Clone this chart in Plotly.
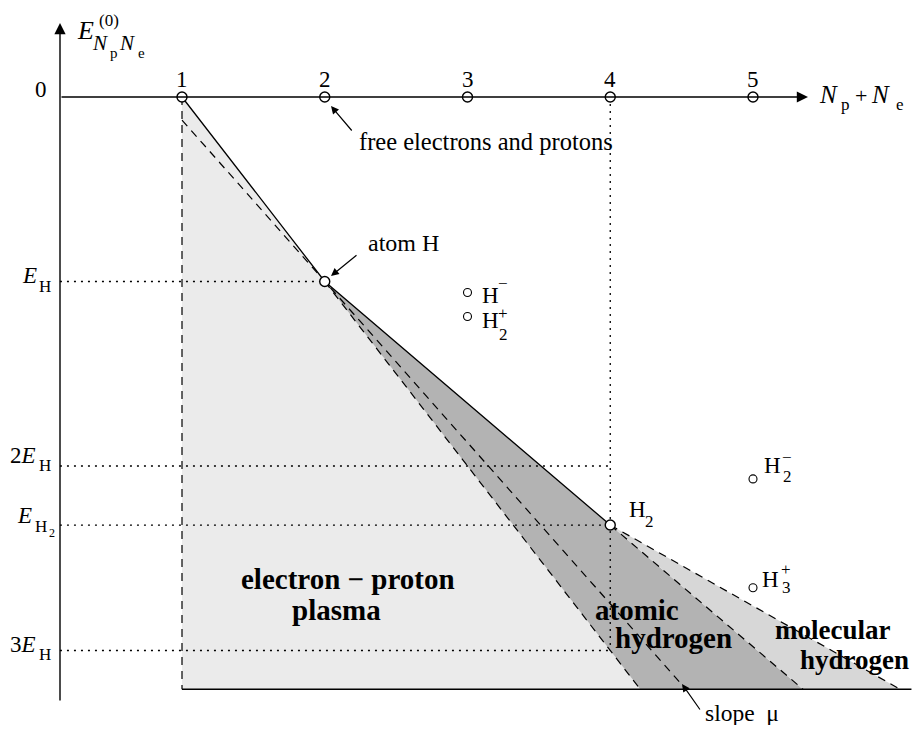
import plotly.graph_objects as go

# ---------------- data ----------------
# horizontal: particle number N = Np + Ne ; vertical: ground-state energy in units of E_H
tick_N = [1, 2, 3, 4, 5]
tick_text = ["1", "2", "3", "4", "5"]

hull_N = [1, 2, 4]              # free particles, atom H, molecule H2
hull_E = [0.0, -1.0, -2.32]

ion_N = [3, 3, 5, 5]            # H-, H2+, H2-, H3+
ion_E = [-1.06, -1.19, -2.07, -2.66]

level_E = [-1.0, -2.0, -2.32, -3.0]     # E_H, 2E_H, E_H2, 3E_H
level_end_N = [2, 4, 4, 4]

floor_E = -3.21
boundary_floor_N = [4.21, 5.35, 6.03]   # plasma|atomic, atomic|molecular, molecular edge
floor_end_N = 6.11
mu_N = [1.0, 4.53]
mu_E = [-0.125, -3.21]
axis_N0 = 0.145

# ---------------- geometry helpers (page pixels -> data) ----------------
PAGE_W, PAGE_H = 922, 733
OFF = 8                      # default body margin of the html page
W, H = PAGE_W - OFF, PAGE_H - 2 * OFF
X0, DX, Y0, DY = 182.0, 142.75, 97.0, 184.5
def px2x(px):
    return 1 + (px - X0) / DX
def py2y(py):
    return -(py - Y0) / DY

SERIF = "Liberation Serif"
BLACK = "black"

fig = go.Figure()

def poly(xs, ys, color):
    fig.add_trace(go.Scatter(x=xs, y=ys, mode="lines", fill="toself", fillcolor=color,
                             line=dict(width=0, color=color), hoverinfo="skip"))

def line(xs, ys, dash="solid", width=1.3):
    fig.add_trace(go.Scatter(x=xs, y=ys, mode="lines",
                             line=dict(color=BLACK, width=width, dash=dash), hoverinfo="skip"))

# regions
poly([hull_N[0], boundary_floor_N[0], hull_N[0]], [hull_E[0], floor_E, floor_E], "#ebebeb")
poly([hull_N[1], hull_N[2], boundary_floor_N[1], boundary_floor_N[0]],
     [hull_E[1], hull_E[2], floor_E, floor_E], "#b3b3b3")
poly([hull_N[2], boundary_floor_N[2], boundary_floor_N[1]], [hull_E[2], floor_E, floor_E], "#d7d7d7")

DASH = "8px,6px"
DOT = "2px,5px"
# dashed lines
line([hull_N[0], hull_N[0]], [hull_E[0], floor_E], DASH, 1.2)
line([hull_N[1], boundary_floor_N[0]], [hull_E[1], floor_E], DASH, 1.2)
line([hull_N[2], boundary_floor_N[1]], [hull_E[2], floor_E], DASH, 1.2)
line([hull_N[2], boundary_floor_N[2]], [hull_E[2], floor_E], DASH, 1.2)
line(mu_N, mu_E, DASH, 1.2)

# dotted guide lines
for e, n_end in zip(level_E, level_end_N):
    line([axis_N0, n_end], [e, e], DOT, 1.3)
line([hull_N[2], hull_N[2]], [0, level_E[3]], DOT, 1.3)

# solid lines
line(hull_N, hull_E, "solid", 1.3)
line([hull_N[0], floor_end_N], [floor_E, floor_E], "solid", 1.5)

# markers
fig.add_trace(go.Scatter(x=tick_N, y=[0] * len(tick_N), mode="markers",
                         marker=dict(symbol="circle", size=10, color="white",
                                     line=dict(color=BLACK, width=1.4)), hoverinfo="skip"))
fig.add_trace(go.Scatter(x=hull_N[1:], y=hull_E[1:], mode="markers",
                         marker=dict(symbol="circle", size=10, color="white",
                                     line=dict(color=BLACK, width=1.4)), hoverinfo="skip"))
fig.add_trace(go.Scatter(x=ion_N, y=ion_E, mode="markers",
                         marker=dict(symbol="circle", size=8, color="white",
                                     line=dict(color=BLACK, width=1.1)), hoverinfo="skip"))

ann = []
def T(px, base_py, s, size, anchor="left"):
    ann.append(dict(x=px2x(px), y=py2y(base_py - 0.3375 * size), text=s, xref="x", yref="y",
                    xanchor=anchor, yanchor="middle", showarrow=False,
                    font=dict(family=SERIF, size=size, color=BLACK)))

def ARROW(head, tail, width=1.2, size=1.3):
    ann.append(dict(x=px2x(head[0]), y=py2y(head[1]), ax=tail[0] - head[0], ay=tail[1] - head[1],
                    xref="x", yref="y", text="", showarrow=True, arrowhead=2, arrowsize=size,
                    arrowwidth=width, arrowcolor=BLACK, standoff=0, startstandoff=0))

# axes with arrows
ARROW((808, 97), (60, 97), 1.4, 1.6)
ARROW((60, 23), (60, 702), 1.4, 1.6)

# tick numbers above the points
for n, t in zip(tick_N, tick_text):
    T(X0 + (n - 1) * DX, 87, t, 23, "center")

# energy axis labels
T(49, 97, "0", 23, "right")
T(20, 283, "<i>E</i>", 23)
T(37, 292, "H", 17)
T(38, 463, "2<i>E</i>", 23, "right")
T(37, 471, "H", 17)
T(34, 523, "<i>E</i>", 23, "right")
T(33, 532, "H", 17)
T(47, 537, "2", 12)
T(38, 652, "3<i>E</i>", 23, "right")
T(37, 660, "H", 17)

# axis titles
T(75, 39, "<i>E</i>", 26)
T(97, 26, "(0)", 17)
T(90, 50, "<i>N</i>", 21)
T(108, 58, "p", 15)
T(117, 50, "<i>N</i>", 21)
T(136, 58, "e", 15)

T(817, 103, "<i>N</i>", 25)
T(839, 110, "p", 17)
T(853, 103, "+", 22)
T(869, 103, "<i>N</i>", 25)
T(894, 110, "e", 17)

# species labels
T(480, 303, "H", 23)
T(496, 289, "−", 17)
T(480, 328, "H", 23)
T(496, 319, "+", 17)
T(497, 340, "2", 17)
T(627, 517, "H", 23)
T(643, 527, "2", 17)
T(762, 473, "H", 23)
T(780, 463, "−", 17)
T(781, 482, "2", 17)
T(760, 587, "H", 23)
T(779, 575, "+", 17)
T(780, 593, "3", 17)

# descriptive labels
T(357, 150, "free electrons and protons", 24.5)
ARROW((331, 106), (353, 132))
T(366, 251, "atom H", 24)
ARROW((331, 276), (358, 254))
T(703, 721, "slope  μ", 23.5)
ARROW((682, 684), (701, 711))

T(348, 589, "<b>electron − proton</b>", 29, "center")
T(336, 620, "<b>plasma</b>", 29, "center")
T(593, 620, "<b>atomic</b>", 29)
T(613, 648, "<b>hydrogen</b>", 29)
T(773, 639, "<b>molecular</b>", 27)
T(798, 669, "<b>hydrogen</b>", 27)

fig.update_layout(
    width=W, height=H, margin=dict(l=0, r=0, t=0, b=0),
    paper_bgcolor="white", plot_bgcolor="white", showlegend=False,
    xaxis=dict(range=[px2x(OFF), px2x(OFF + W)], visible=False, fixedrange=True),
    yaxis=dict(range=[py2y(OFF + H), py2y(OFF)], visible=False, fixedrange=True),
    annotations=ann,
)
fig.write_html("out.html")
